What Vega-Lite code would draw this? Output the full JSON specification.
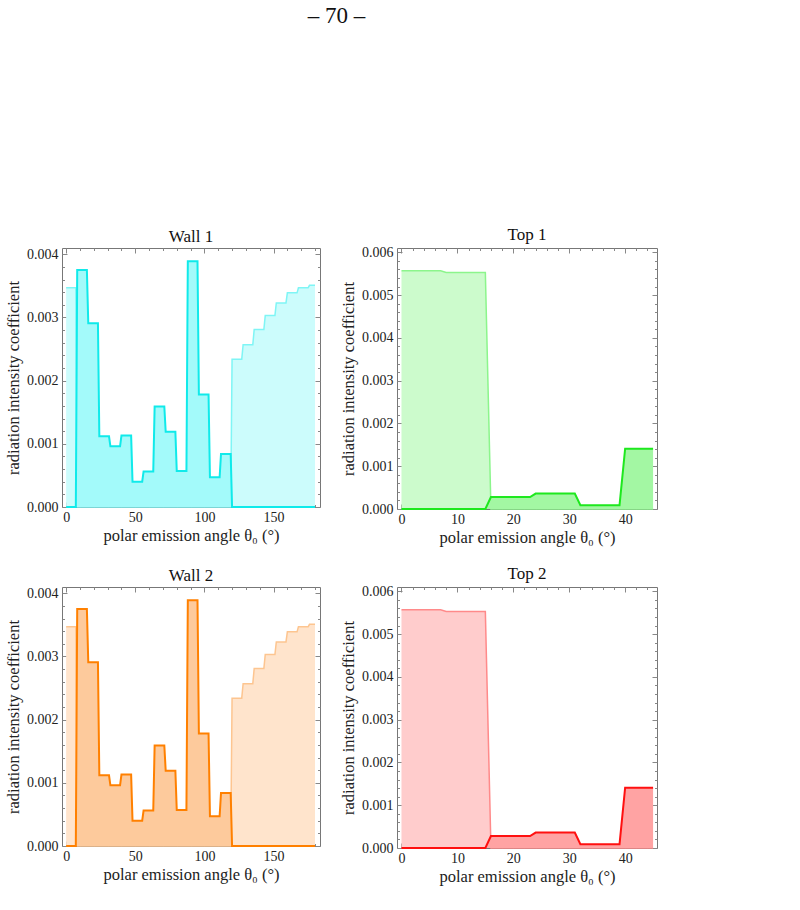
{
  "$schema": "https://vega.github.io/schema/vega-lite/v6.json",
  "padding": {"left": 5, "top": 4, "right": 5, "bottom": 5},
  "title": {"text": "– 70 –", "fontSize": 23, "font": "Liberation Serif", "fontWeight": "normal", "color": "#111", "anchor": "middle", "dx": 5, "offset": 198},
  "datasets": {
    "wall": [
      {"s": "light", "x": 0, "y": 0.00347},
      {"s": "light", "x": 7, "y": 0.00347},
      {"s": "light", "x": 8, "y": 0},
      {"s": "light", "x": 119, "y": 0},
      {"s": "light", "x": 120, "y": 0.00234},
      {"s": "light", "x": 127, "y": 0.00234},
      {"s": "light", "x": 128, "y": 0.00257},
      {"s": "light", "x": 135, "y": 0.00257},
      {"s": "light", "x": 136, "y": 0.00281},
      {"s": "light", "x": 143, "y": 0.00281},
      {"s": "light", "x": 144, "y": 0.00303},
      {"s": "light", "x": 151, "y": 0.00303},
      {"s": "light", "x": 152, "y": 0.00323},
      {"s": "light", "x": 159, "y": 0.00323},
      {"s": "light", "x": 160, "y": 0.00339},
      {"s": "light", "x": 167, "y": 0.00339},
      {"s": "light", "x": 168, "y": 0.00347},
      {"s": "light", "x": 175, "y": 0.00347},
      {"s": "light", "x": 176, "y": 0.00351},
      {"s": "light", "x": 180, "y": 0.00351},
      {"s": "dark", "x": 0, "y": 0},
      {"s": "dark", "x": 7, "y": 0},
      {"s": "dark", "x": 8, "y": 0.00375},
      {"s": "dark", "x": 15, "y": 0.00375},
      {"s": "dark", "x": 16, "y": 0.00291},
      {"s": "dark", "x": 23, "y": 0.00291},
      {"s": "dark", "x": 24, "y": 0.00112},
      {"s": "dark", "x": 31, "y": 0.00112},
      {"s": "dark", "x": 32, "y": 0.00096},
      {"s": "dark", "x": 39, "y": 0.00096},
      {"s": "dark", "x": 40, "y": 0.00113},
      {"s": "dark", "x": 47, "y": 0.00113},
      {"s": "dark", "x": 48, "y": 0.00040},
      {"s": "dark", "x": 55, "y": 0.00040},
      {"s": "dark", "x": 56, "y": 0.00056},
      {"s": "dark", "x": 63, "y": 0.00056},
      {"s": "dark", "x": 64, "y": 0.00159},
      {"s": "dark", "x": 71, "y": 0.00159},
      {"s": "dark", "x": 72, "y": 0.00119},
      {"s": "dark", "x": 79, "y": 0.00119},
      {"s": "dark", "x": 80, "y": 0.00057},
      {"s": "dark", "x": 87, "y": 0.00057},
      {"s": "dark", "x": 88, "y": 0.00389},
      {"s": "dark", "x": 95, "y": 0.00389},
      {"s": "dark", "x": 96, "y": 0.00178},
      {"s": "dark", "x": 103, "y": 0.00178},
      {"s": "dark", "x": 104, "y": 0.00047},
      {"s": "dark", "x": 111, "y": 0.00047},
      {"s": "dark", "x": 112, "y": 0.00084},
      {"s": "dark", "x": 119, "y": 0.00084},
      {"s": "dark", "x": 120, "y": 0},
      {"s": "dark", "x": 180, "y": 0}
    ],
    "top": [
      {"s": "light", "x": 0, "y": 0.00557},
      {"s": "light", "x": 7, "y": 0.00557},
      {"s": "light", "x": 8, "y": 0.00553},
      {"s": "light", "x": 15, "y": 0.00553},
      {"s": "light", "x": 16, "y": 0},
      {"s": "light", "x": 45, "y": 0},
      {"s": "dark", "x": 0, "y": 0},
      {"s": "dark", "x": 15, "y": 0},
      {"s": "dark", "x": 16, "y": 0.00028},
      {"s": "dark", "x": 23, "y": 0.00028},
      {"s": "dark", "x": 24, "y": 0.00036},
      {"s": "dark", "x": 31, "y": 0.00036},
      {"s": "dark", "x": 32, "y": 0.00009},
      {"s": "dark", "x": 39, "y": 0.00009},
      {"s": "dark", "x": 40, "y": 0.00141},
      {"s": "dark", "x": 45, "y": 0.00141}
    ]
  },
  "columns": 2,
  "spacing": {"column": 19, "row": 18},
  "concat": [
    {
      "title": "Wall 1",
      "width": 258, "height": 259,
      "data": {"name": "wall"},
      "resolve": {"axis": {"x": "independent", "y": "independent"}},
      "layer": [
        {
          "transform": [{"filter": "datum.s === 'light'"}],
          "mark": {"type": "area", "color": "#ccfcfc", "fillOpacity": 1, "line": {"color": "#7ff5f5", "strokeWidth": 1.5}},
          "encoding": {
            "x": {"field": "x", "type": "quantitative", "scale": {"domain": [-3, 183.6], "nice": false, "zero": false},
                  "axis": {"orient": "bottom", "values": [0, 50, 100, 150], "tickSize": -5, "labelPadding": 8, "title": "polar emission angle θ₀ (°)", "titlePadding": 3}},
            "y": {"field": "y", "type": "quantitative", "scale": {"domain": [0, 0.0041], "nice": false},
                  "axis": {"orient": "left", "values": [0, 0.001, 0.002, 0.003, 0.004], "format": ".3f", "tickSize": -5, "labelPadding": 9, "title": "radiation intensity coefficient", "titlePadding": 5}}
          }
        },
        {
          "transform": [{"filter": "datum.s === 'dark'"}],
          "mark": {"type": "area", "color": "#a3fafa", "fillOpacity": 1, "line": {"color": "#10eaea", "strokeWidth": 2}},
          "encoding": {
            "x": {"field": "x", "type": "quantitative", "axis": {"orient": "top", "values": [0, 50, 100, 150], "tickSize": -5, "labels": false, "title": null}},
            "y": {"field": "y", "type": "quantitative", "axis": {"orient": "right", "values": [0, 0.001, 0.002, 0.003, 0.004], "tickSize": -5, "labels": false, "title": null}}
          }
        },
        {
          "transform": [{"filter": "datum.s === 'dark'"}],
          "mark": {"type": "line", "strokeOpacity": 0},
          "encoding": {
            "x": {"field": "x", "type": "quantitative", "axis": {"orient": "bottom", "values": [10, 20, 30, 40, 60, 70, 80, 90, 110, 120, 130, 140, 160, 170, 180], "tickSize": -2.5, "labels": false, "title": null}},
            "y": {"field": "y", "type": "quantitative", "axis": {"orient": "left", "values": [0.0002, 0.0004, 0.0006, 0.0008, 0.0012, 0.0014, 0.0016, 0.0018, 0.0022, 0.0024, 0.0026, 0.0028, 0.0032, 0.0034, 0.0036, 0.0038], "tickSize": -2.5, "labels": false, "title": null}}
          }
        },
        {
          "transform": [{"filter": "datum.s === 'dark'"}],
          "mark": {"type": "line", "strokeOpacity": 0},
          "encoding": {
            "x": {"field": "x", "type": "quantitative", "axis": {"orient": "top", "values": [10, 20, 30, 40, 60, 70, 80, 90, 110, 120, 130, 140, 160, 170, 180], "tickSize": -2.5, "labels": false, "title": null}},
            "y": {"field": "y", "type": "quantitative", "axis": {"orient": "right", "values": [0.0002, 0.0004, 0.0006, 0.0008, 0.0012, 0.0014, 0.0016, 0.0018, 0.0022, 0.0024, 0.0026, 0.0028, 0.0032, 0.0034, 0.0036, 0.0038], "tickSize": -2.5, "labels": false, "title": null}}
          }
        }
      ]
    },
    {
      "title": "Top 1",
      "width": 260, "height": 261,
      "data": {"name": "top"},
      "resolve": {"axis": {"x": "independent", "y": "independent"}},
      "layer": [
        {
          "transform": [{"filter": "datum.s === 'light'"}],
          "mark": {"type": "area", "color": "#ccfbcc", "fillOpacity": 1, "line": {"color": "#8cf58c", "strokeWidth": 1.5}},
          "encoding": {
            "x": {"field": "x", "type": "quantitative", "scale": {"domain": [-0.8, 45.7], "nice": false, "zero": false},
                  "axis": {"orient": "bottom", "values": [0, 10, 20, 30, 40], "tickSize": -5, "labelPadding": 8, "title": "polar emission angle θ₀ (°)", "titlePadding": 3}},
            "y": {"field": "y", "type": "quantitative", "scale": {"domain": [0, 0.0061], "nice": false},
                  "axis": {"orient": "left", "values": [0, 0.001, 0.002, 0.003, 0.004, 0.005, 0.006], "format": ".3f", "tickSize": -5, "labelPadding": 9, "title": "radiation intensity coefficient", "titlePadding": 5}}
          }
        },
        {
          "transform": [{"filter": "datum.s === 'dark'"}],
          "mark": {"type": "area", "color": "#a3f7a3", "fillOpacity": 1, "line": {"color": "#1ee81e", "strokeWidth": 2}},
          "encoding": {
            "x": {"field": "x", "type": "quantitative", "axis": {"orient": "top", "values": [0, 10, 20, 30, 40], "tickSize": -5, "labels": false, "title": null}},
            "y": {"field": "y", "type": "quantitative", "axis": {"orient": "right", "values": [0, 0.001, 0.002, 0.003, 0.004, 0.005, 0.006], "tickSize": -5, "labels": false, "title": null}}
          }
        },
        {
          "transform": [{"filter": "datum.s === 'dark'"}],
          "mark": {"type": "line", "strokeOpacity": 0},
          "encoding": {
            "x": {"field": "x", "type": "quantitative", "axis": {"orient": "bottom", "values": [2, 4, 6, 8, 12, 14, 16, 18, 22, 24, 26, 28, 32, 34, 36, 38, 42, 44], "tickSize": -2.5, "labels": false, "title": null}},
            "y": {"field": "y", "type": "quantitative", "axis": {"orient": "left", "values": [0.0002, 0.0004, 0.0006, 0.0008, 0.0012, 0.0014, 0.0016, 0.0018, 0.0022, 0.0024, 0.0026, 0.0028, 0.0032, 0.0034, 0.0036, 0.0038, 0.0042, 0.0044, 0.0046, 0.0048, 0.0052, 0.0054, 0.0056, 0.0058], "tickSize": -2.5, "labels": false, "title": null}}
          }
        },
        {
          "transform": [{"filter": "datum.s === 'dark'"}],
          "mark": {"type": "line", "strokeOpacity": 0},
          "encoding": {
            "x": {"field": "x", "type": "quantitative", "axis": {"orient": "top", "values": [2, 4, 6, 8, 12, 14, 16, 18, 22, 24, 26, 28, 32, 34, 36, 38, 42, 44], "tickSize": -2.5, "labels": false, "title": null}},
            "y": {"field": "y", "type": "quantitative", "axis": {"orient": "right", "values": [0.0002, 0.0004, 0.0006, 0.0008, 0.0012, 0.0014, 0.0016, 0.0018, 0.0022, 0.0024, 0.0026, 0.0028, 0.0032, 0.0034, 0.0036, 0.0038, 0.0042, 0.0044, 0.0046, 0.0048, 0.0052, 0.0054, 0.0056, 0.0058], "tickSize": -2.5, "labels": false, "title": null}}
          }
        }
      ]
    },
    {
      "title": "Wall 2",
      "width": 258, "height": 259,
      "data": {"name": "wall"},
      "resolve": {"axis": {"x": "independent", "y": "independent"}},
      "layer": [
        {
          "transform": [{"filter": "datum.s === 'light'"}],
          "mark": {"type": "area", "color": "#ffe4cc", "fillOpacity": 1, "line": {"color": "#fdc590", "strokeWidth": 1.5}},
          "encoding": {
            "x": {"field": "x", "type": "quantitative", "scale": {"domain": [-3, 183.6], "nice": false, "zero": false},
                  "axis": {"orient": "bottom", "values": [0, 50, 100, 150], "tickSize": -5, "labelPadding": 8, "title": "polar emission angle θ₀ (°)", "titlePadding": 3}},
            "y": {"field": "y", "type": "quantitative", "scale": {"domain": [0, 0.0041], "nice": false},
                  "axis": {"orient": "left", "values": [0, 0.001, 0.002, 0.003, 0.004], "format": ".3f", "tickSize": -5, "labelPadding": 9, "title": "radiation intensity coefficient", "titlePadding": 5}}
          }
        },
        {
          "transform": [{"filter": "datum.s === 'dark'"}],
          "mark": {"type": "area", "color": "#fdca9c", "fillOpacity": 1, "line": {"color": "#ff8000", "strokeWidth": 2}},
          "encoding": {
            "x": {"field": "x", "type": "quantitative", "axis": {"orient": "top", "values": [0, 50, 100, 150], "tickSize": -5, "labels": false, "title": null}},
            "y": {"field": "y", "type": "quantitative", "axis": {"orient": "right", "values": [0, 0.001, 0.002, 0.003, 0.004], "tickSize": -5, "labels": false, "title": null}}
          }
        },
        {
          "transform": [{"filter": "datum.s === 'dark'"}],
          "mark": {"type": "line", "strokeOpacity": 0},
          "encoding": {
            "x": {"field": "x", "type": "quantitative", "axis": {"orient": "bottom", "values": [10, 20, 30, 40, 60, 70, 80, 90, 110, 120, 130, 140, 160, 170, 180], "tickSize": -2.5, "labels": false, "title": null}},
            "y": {"field": "y", "type": "quantitative", "axis": {"orient": "left", "values": [0.0002, 0.0004, 0.0006, 0.0008, 0.0012, 0.0014, 0.0016, 0.0018, 0.0022, 0.0024, 0.0026, 0.0028, 0.0032, 0.0034, 0.0036, 0.0038], "tickSize": -2.5, "labels": false, "title": null}}
          }
        },
        {
          "transform": [{"filter": "datum.s === 'dark'"}],
          "mark": {"type": "line", "strokeOpacity": 0},
          "encoding": {
            "x": {"field": "x", "type": "quantitative", "axis": {"orient": "top", "values": [10, 20, 30, 40, 60, 70, 80, 90, 110, 120, 130, 140, 160, 170, 180], "tickSize": -2.5, "labels": false, "title": null}},
            "y": {"field": "y", "type": "quantitative", "axis": {"orient": "right", "values": [0.0002, 0.0004, 0.0006, 0.0008, 0.0012, 0.0014, 0.0016, 0.0018, 0.0022, 0.0024, 0.0026, 0.0028, 0.0032, 0.0034, 0.0036, 0.0038], "tickSize": -2.5, "labels": false, "title": null}}
          }
        }
      ]
    },
    {
      "title": "Top 2",
      "width": 260, "height": 261,
      "data": {"name": "top"},
      "resolve": {"axis": {"x": "independent", "y": "independent"}},
      "layer": [
        {
          "transform": [{"filter": "datum.s === 'light'"}],
          "mark": {"type": "area", "color": "#ffcccc", "fillOpacity": 1, "line": {"color": "#ff8a8a", "strokeWidth": 1.5}},
          "encoding": {
            "x": {"field": "x", "type": "quantitative", "scale": {"domain": [-0.8, 45.7], "nice": false, "zero": false},
                  "axis": {"orient": "bottom", "values": [0, 10, 20, 30, 40], "tickSize": -5, "labelPadding": 8, "title": "polar emission angle θ₀ (°)", "titlePadding": 3}},
            "y": {"field": "y", "type": "quantitative", "scale": {"domain": [0, 0.0061], "nice": false},
                  "axis": {"orient": "left", "values": [0, 0.001, 0.002, 0.003, 0.004, 0.005, 0.006], "format": ".3f", "tickSize": -5, "labelPadding": 9, "title": "radiation intensity coefficient", "titlePadding": 5}}
          }
        },
        {
          "transform": [{"filter": "datum.s === 'dark'"}],
          "mark": {"type": "area", "color": "#ffa3a3", "fillOpacity": 1, "line": {"color": "#ff1010", "strokeWidth": 2}},
          "encoding": {
            "x": {"field": "x", "type": "quantitative", "axis": {"orient": "top", "values": [0, 10, 20, 30, 40], "tickSize": -5, "labels": false, "title": null}},
            "y": {"field": "y", "type": "quantitative", "axis": {"orient": "right", "values": [0, 0.001, 0.002, 0.003, 0.004, 0.005, 0.006], "tickSize": -5, "labels": false, "title": null}}
          }
        },
        {
          "transform": [{"filter": "datum.s === 'dark'"}],
          "mark": {"type": "line", "strokeOpacity": 0},
          "encoding": {
            "x": {"field": "x", "type": "quantitative", "axis": {"orient": "bottom", "values": [2, 4, 6, 8, 12, 14, 16, 18, 22, 24, 26, 28, 32, 34, 36, 38, 42, 44], "tickSize": -2.5, "labels": false, "title": null}},
            "y": {"field": "y", "type": "quantitative", "axis": {"orient": "left", "values": [0.0002, 0.0004, 0.0006, 0.0008, 0.0012, 0.0014, 0.0016, 0.0018, 0.0022, 0.0024, 0.0026, 0.0028, 0.0032, 0.0034, 0.0036, 0.0038, 0.0042, 0.0044, 0.0046, 0.0048, 0.0052, 0.0054, 0.0056, 0.0058], "tickSize": -2.5, "labels": false, "title": null}}
          }
        },
        {
          "transform": [{"filter": "datum.s === 'dark'"}],
          "mark": {"type": "line", "strokeOpacity": 0},
          "encoding": {
            "x": {"field": "x", "type": "quantitative", "axis": {"orient": "top", "values": [2, 4, 6, 8, 12, 14, 16, 18, 22, 24, 26, 28, 32, 34, 36, 38, 42, 44], "tickSize": -2.5, "labels": false, "title": null}},
            "y": {"field": "y", "type": "quantitative", "axis": {"orient": "right", "values": [0.0002, 0.0004, 0.0006, 0.0008, 0.0012, 0.0014, 0.0016, 0.0018, 0.0022, 0.0024, 0.0026, 0.0028, 0.0032, 0.0034, 0.0036, 0.0038, 0.0042, 0.0044, 0.0046, 0.0048, 0.0052, 0.0054, 0.0056, 0.0058], "tickSize": -2.5, "labels": false, "title": null}}
          }
        }
      ]
    }
  ],
  "config": {
    "font": "Liberation Serif",
    "view": {"stroke": "#777", "strokeWidth": 1},
    "axis": {"labelFont": "Liberation Serif", "labelFontSize": 14, "labelColor": "#222", "titleFont": "Liberation Serif", "titleFontSize": 16.5, "titleFontWeight": "normal", "titleColor": "#222", "tickColor": "#888", "domain": false, "grid": false},
    "title": {"font": "Liberation Serif", "fontSize": 17, "fontWeight": "normal", "color": "#111", "offset": 1}
  }
}
